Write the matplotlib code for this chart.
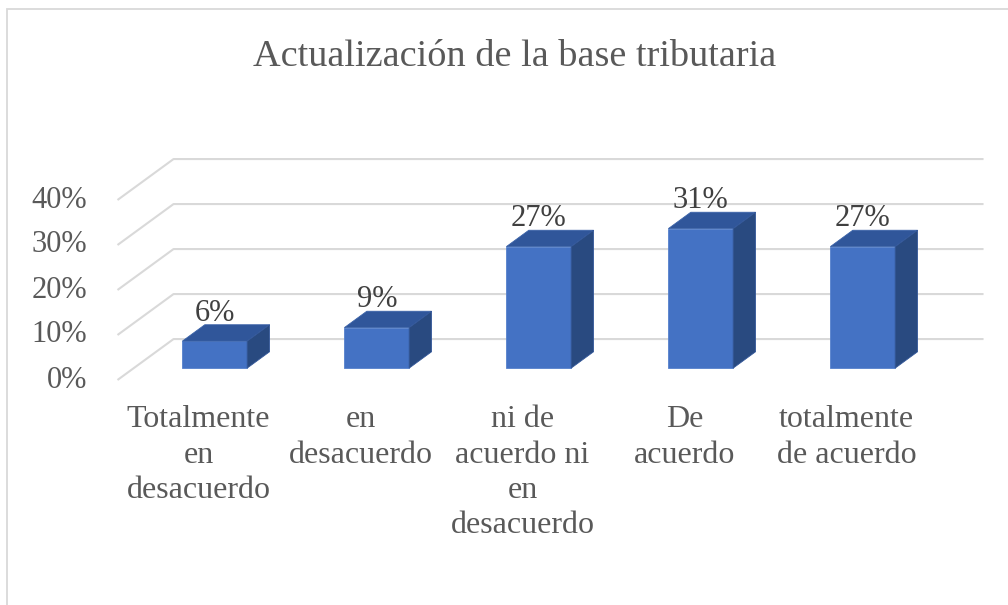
import numpy as np
import matplotlib.pyplot as plt
from matplotlib.patches import Polygon, Rectangle
import matplotlib.transforms as mtransforms

plt.rcParams['font.family'] = ['Liberation Serif', 'DejaVu Serif']

title = "Actualización de la base tributaria"
categories = ["Totalmente\nen\ndesacuerdo", "en\ndesacuerdo",
              "ni de\nacuerdo ni\nen\ndesacuerdo", "De\nacuerdo",
              "totalmente\nde acuerdo"]
values = [6, 9, 27, 31, 27]
yticks = [0, 10, 20, 30, 40]

# oblique "3d" look: depth offsets of the back wall in data units
DX, DY = 0.346, 9.1
f0, f1 = 0.29, 0.69   # depth of bar front / back
width = 0.40

front_col = '#4472C4'
top_col = '#30569A'
side_col = '#294A80'
grid_col = '#D9D9D9'
text_col = '#595959'

fig = plt.figure(figsize=(10.08, 6.05), dpi=100)
ax = fig.add_axes([0, 0, 1, 1])
ax.set_xlim(-198.5 / 162, (1008 - 198.5) / 162)
ax.set_ylim((380 - 605) / 4.5, 380 / 4.5)
ax.axis('off')

# frame of the chart area
fig.patches.append(Rectangle((7 / 1008, -0.1), 1.2, 1 - 9 / 605 + 0.1,
                             transform=fig.transFigure, fill=False,
                             edgecolor=grid_col, lw=1.3))

n = len(values)
x = np.arange(n)

# gridlines: diagonal on the side wall, then horizontal on the back wall
for v in yticks:
    ax.plot([-0.5, -0.5 + DX, n - 0.5 + DX], [v, v + DY, v + DY],
            color=grid_col, lw=1.5, zorder=1, solid_capstyle='butt')
    ax.text(-0.5, v, f"{v}%", ha='right', va='center', fontsize=22,
            color=text_col,
            transform=ax.transData + mtransforms.ScaledTranslation(-30 / 100, 0, fig.dpi_scale_trans))

# bars
ddx, ddy = (f1 - f0) * DX, (f1 - f0) * DY
xc = x + f0 * DX
b0 = f0 * DY
ax.bar(xc, values, width=width, bottom=b0, color=front_col, zorder=3,
       edgecolor='#5580CC', linewidth=0.6)
for xi, v in zip(xc, values):
    xl, xr = xi - width / 2, xi + width / 2
    top = Polygon([(xl, v + b0), (xr, v + b0), (xr + ddx, v + b0 + ddy),
                   (xl + ddx, v + b0 + ddy)], closed=True,
                  facecolor=top_col, edgecolor='#3A62A8', lw=0.6, zorder=3)
    side = Polygon([(xr, b0), (xr, v + b0), (xr + ddx, v + b0 + ddy),
                    (xr + ddx, b0 + ddy)], closed=True,
                   facecolor=side_col, edgecolor='#34589A', lw=0.6, zorder=3)
    ax.add_patch(top)
    ax.add_patch(side)
    ax.text(xi, v + b0 + ddy + 0.9, f"{v}%", ha='center', va='baseline',
            fontsize=22, color='#404040', zorder=4)

# category labels
for xi, lab in zip(x, categories):
    ax.text(xi, -5.6, lab, ha='center', va='top', fontsize=23,
            color=text_col, linespacing=1.29)

fig.text(515 / 1008, 1 - 57 / 605, title, ha='center', va='center',
         fontsize=27.5, color=text_col)

fig.savefig('out.png', dpi=100)
